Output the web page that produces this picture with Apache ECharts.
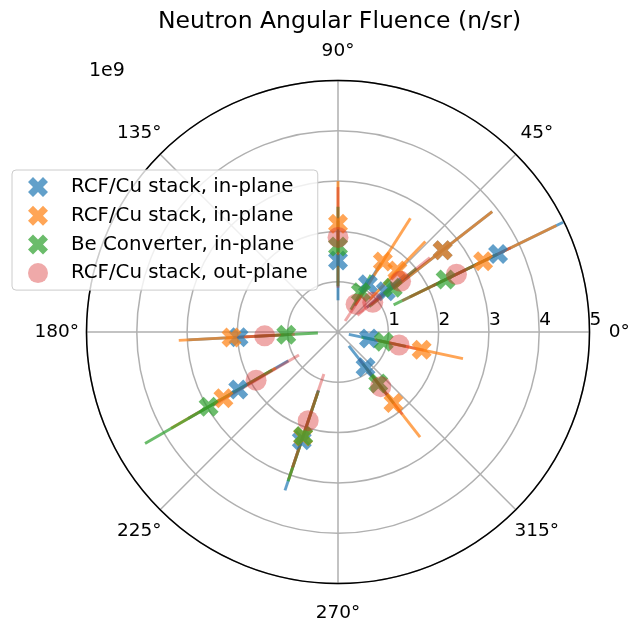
<!DOCTYPE html>
<html>
<head>
<meta charset="utf-8">
<script src="https://cdn.jsdelivr.net/npm/echarts@6/dist/echarts.min.js"></script>
<style>
html, body { margin: 0; padding: 0; background: #fff; }
#chart { width: 630px; height: 628px; }
</style>
</head>
<body>
<div id="chart"></div>
<script>
// data (values in units of 1e9 n/sr, angles in degrees)
const rcfAAngle = [26, 38, 40.5, 58, 90, 183, 210, 251.5, 308, 348];
const rcfAValue = [3.54, 2.64, 1.25, 1.12, 1.42, 1.98, 2.29, 2.27, 0.89, 0.63];
const rcfAErr = [1.44, 1.25, 0.5, 0.5, 0.79, 1.0, 1.15, 1.05, 0.54, 0.41];

const rcfBAngle = [26, 38, 46, 57.5, 90, 183, 210, 251.5, 308, 348];
const rcfBValue = [3.21, 2.64, 1.7, 1.66, 2.15, 2.12, 2.63, 2.19, 1.79, 1.70];
const rcfBErr = [1.62, 1.25, 0.8, 1.02, 0.85, 1.05, 1.2, 0.9, 0.86, 0.84];

const beAngle = [26, 39, 60, 90, 183, 210, 251.5, 308, 348];
const beValue = [2.38, 1.40, 0.91, 1.70, 1.03, 2.97, 2.18, 1.30, 0.93];
const beErr = [1.15, 0.6, 0.4, 0.79, 0.63, 1.46, 0.95, 0.5, 0.45];

const outAngle = [26, 39, 40.6, 57, 90, 183, 210.5, 251.4, 308, 348];
const outValue = [2.62, 1.60, 0.91, 0.66, 1.88, 1.46, 1.89, 1.86, 1.38, 1.24];
const outErr = [1.2, 0.75, 0.4, 0.4, 1.0, 0.6, 0.99, 0.98, 0.7, 0.5];

// theta tick labels, centred just outside the outer ring like matplotlib does
const thetaTicks = [0, 45, 90, 135, 180, 225, 270, 315];
const thetaLabelRadius = 5.59;

const legendNames = ['rcfA', 'rcfB', 'be', 'out'];
const legendLabels = ['RCF/Cu stack, in-plane', 'RCF/Cu stack, in-plane', 'Be Converter, in-plane', 'RCF/Cu stack, out-plane'];

const xMarker = 'path://M94,-47L47,0L94,47L47,94L0,47L-47,94L-94,47L-47,0L-94,-47L-47,-94L0,-47L47,-94Z';
const font = 'DejaVu Sans';

function errSeries(name, color, opacity, angle, value, err) {
  return {
    type: 'custom',
    name: name + '-err',
    coordinateSystem: 'polar',
    silent: true,
    data: angle.map((a, i) => [value[i] - err[i], a, value[i] + err[i]]),
    renderItem: function (params, api) {
      const p0 = api.coord([api.value(0), api.value(1)]);
      const p1 = api.coord([api.value(2), api.value(1)]);
      return {
        type: 'line',
        shape: { x1: p0[0], y1: p0[1], x2: p1[0], y2: p1[1] },
        style: { stroke: color, lineWidth: 2.9, opacity: opacity }
      };
    }
  };
}

function pointSeries(name, color, opacity, symbol, size, angle, value) {
  return {
    type: 'scatter',
    name: name,
    coordinateSystem: 'polar',
    symbol: symbol,
    symbolSize: size,
    itemStyle: { color: color, opacity: opacity },
    data: angle.map((a, i) => [value[i], a])
  };
}

const chart = echarts.init(document.getElementById('chart'));
chart.setOption({
  animation: false,
  backgroundColor: '#fff',
  textStyle: { fontFamily: font },
  title: [
    { text: 'Neutron Angular Fluence (n/sr)', left: 153, top: 5,
      textStyle: { fontSize: 23.5, fontWeight: 'normal', color: '#000', fontFamily: font } },
    { text: '1e9', left: 84, top: 57,
      textStyle: { fontSize: 19, fontWeight: 'normal', color: '#000', fontFamily: font } }
  ],
  legend: {
    orient: 'vertical',
    left: 12,
    top: 170,
    padding: [7, 10, 7, 16],
    itemWidth: 20,
    itemHeight: 20,
    itemGap: 8.7,
    backgroundColor: 'rgba(255,255,255,0.8)',
    borderColor: '#cccccc',
    borderWidth: 1,
    borderRadius: 4,
    textStyle: { fontSize: 19.8, color: '#000', fontFamily: font, lineHeight: 20, padding: [0, 0, 0, 18] },
    data: [
      { name: 'rcfA', icon: xMarker },
      { name: 'rcfB', icon: xMarker },
      { name: 'be', icon: xMarker },
      { name: 'out', icon: 'circle' }
    ],
    formatter: function (name) { return legendLabels[legendNames.indexOf(name)]; }
  },
  polar: { center: [338, 332], radius: 251.5 },
  angleAxis: {
    type: 'value', min: 0, max: 360, interval: 45,
    startAngle: 0, clockwise: false,
    axisLine: { lineStyle: { color: '#000', width: 1.5 } },
    axisTick: { show: false },
    axisLabel: { show: false },
    splitLine: { lineStyle: { color: '#b0b0b0', width: 1.5 } }
  },
  radiusAxis: {
    min: 0, max: 5, interval: 1,
    axisLine: { show: false },
    axisTick: { show: false },
    axisLabel: { fontSize: 18.5, color: '#000', fontFamily: font, align: 'left', margin: 2,
      formatter: function (v) { return v === 0 ? '' : String(v); } },
    splitLine: { lineStyle: { color: '#b0b0b0', width: 1.5 } }
  },
  series: [
    errSeries('rcfA', '#1f77b4', 0.7, rcfAAngle, rcfAValue, rcfAErr),
    pointSeries('rcfA', '#1f77b4', 0.7, xMarker, 20, rcfAAngle, rcfAValue),
    errSeries('rcfB', '#ff7f0e', 0.7, rcfBAngle, rcfBValue, rcfBErr),
    pointSeries('rcfB', '#ff7f0e', 0.7, xMarker, 20, rcfBAngle, rcfBValue),
    errSeries('be', '#2ca02c', 0.7, beAngle, beValue, beErr),
    pointSeries('be', '#2ca02c', 0.7, xMarker, 20, beAngle, beValue),
    errSeries('out', '#d62728', 0.4, outAngle, outValue, outErr),
    pointSeries('out', '#d62728', 0.4, 'circle', 21, outAngle, outValue),
    {
      type: 'scatter',
      name: 'theta-labels',
      coordinateSystem: 'polar',
      silent: true,
      clip: false,
      symbolSize: 1,
      itemStyle: { color: 'rgba(0,0,0,0)' },
      label: {
        show: true, position: 'inside', color: '#000', opacity: 1, fontSize: 18.5, fontFamily: font,
        formatter: function (p) { return p.value[1] + '°'; }
      },
      data: thetaTicks.map(a => [thetaLabelRadius, a])
    }
  ]
});
</script>
</body>
</html>
